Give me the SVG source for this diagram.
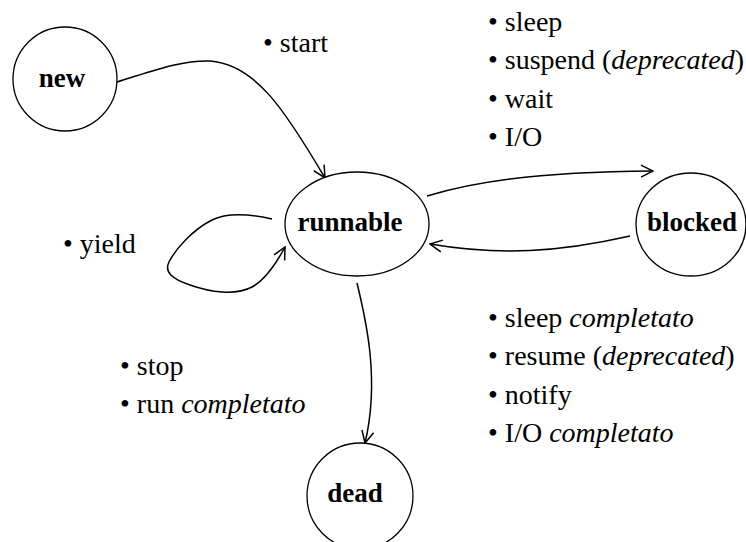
<svg xmlns="http://www.w3.org/2000/svg" width="746" height="542" viewBox="0 0 746 542">
  <style>
    .state { fill: #fff; stroke: #000; stroke-width: 1.3; }
    .name { font-family: "Liberation Serif", "Times New Roman", serif; font-weight: bold; font-size: 27px; text-anchor: middle; fill: #000; }
    .note { font-family: "Liberation Serif", "Times New Roman", serif; font-size: 28px; fill: #000; }
    .note .em { font-style: italic; }
    .edge { fill: none; stroke: #000; stroke-width: 1.5; marker-end: url(#open); }
  </style>
  <defs>
    <marker id="open" viewBox="0 0 14 14" refX="13" refY="7" markerWidth="14" markerHeight="14" markerUnits="userSpaceOnUse" orient="auto">
      <path d="M1,1 L13,7 L1,13" fill="none" stroke="#000" stroke-width="1.5"/>
    </marker>
  </defs>

  <!-- transitions -->
  <g id="connectors">
    <path class="edge" d="M117,82 C150,72 180,60 210,61 C255,64 285,110 325,178"/>
    <path class="edge" d="M427,196 C470,183 530,172 653,171"/>
    <path class="edge" d="M630,236 C560,252 500,256 430,244"/>
    <path class="edge" d="M272,219 C250,214 228,212 212,220 C192,230 175,250 169,262 C164,272 172,279 190,285 C210,292 235,296 252,287 C265,280 277,262 285,247"/>
    <path class="edge" d="M357,283 C366,320 380,380 365,443"/>
  </g>

  <!-- states -->
  <g id="new">
    <circle class="state" cx="65" cy="79" r="52"/>
    <text class="name" x="62" y="87">new</text>
  </g>
  <g id="runnable">
    <ellipse class="state" cx="357" cy="224" rx="72" ry="52"/>
    <text class="name" x="350" y="231">runnable</text>
  </g>
  <g id="blocked">
    <ellipse class="state" cx="691" cy="224.5" rx="55" ry="51.5"/>
    <text class="name" x="692" y="231">blocked</text>
  </g>
  <g id="dead">
    <circle class="state" cx="360" cy="496" r="53"/>
    <text class="name" x="355" y="502">dead</text>
  </g>

  <!-- transition notes -->
  <g id="labels">
    <text class="note" x="263" y="52">• start</text>
    <text class="note" x="63" y="253">• yield</text>
    <text class="note" x="488" y="30.5">• sleep</text>
    <text class="note" x="488" y="69">• suspend (<tspan class="em">deprecated</tspan>)</text>
    <text class="note" x="488" y="107.5">• wait</text>
    <text class="note" x="488" y="146">• I/O</text>
    <text class="note" x="488" y="326.5">• sleep <tspan class="em">completato</tspan></text>
    <text class="note" x="488" y="365">• resume (<tspan class="em">deprecated</tspan>)</text>
    <text class="note" x="488" y="403.5">• notify</text>
    <text class="note" x="488" y="442">• I/O <tspan class="em">completato</tspan></text>
    <text class="note" x="120" y="375">• stop</text>
    <text class="note" x="120" y="413">• run <tspan class="em">completato</tspan></text>
  </g>
</svg>
